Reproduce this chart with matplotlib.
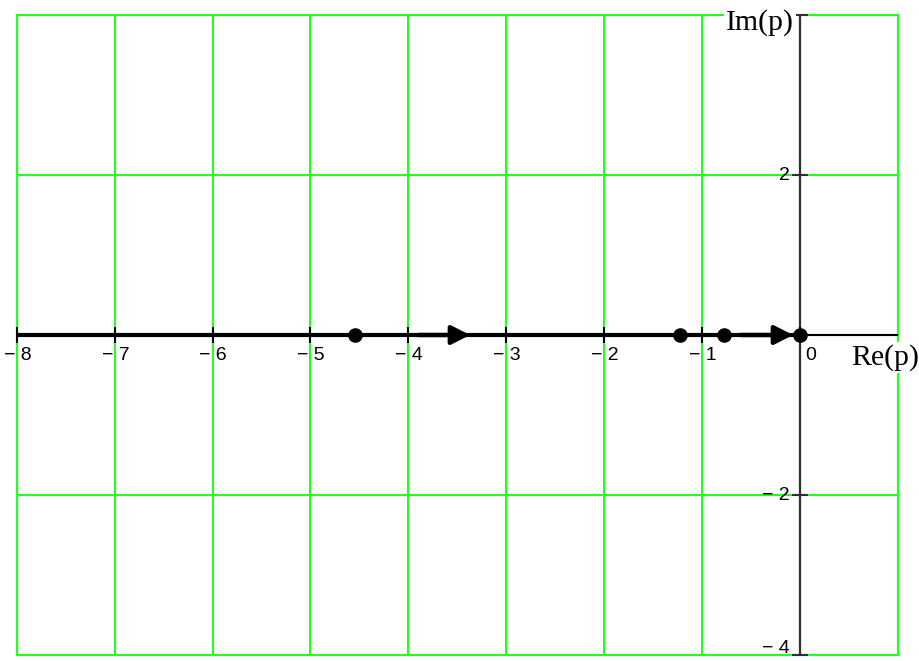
import matplotlib
matplotlib.use("Agg")
import matplotlib.pyplot as plt
from matplotlib.transforms import offset_copy

# Axis ranges and tick positions
re_ticks = [-8, -7, -6, -5, -4, -3, -2, -1, 0, 1]
im_ticks = [-4, -2, 0, 2, 4]
re_labels = {-8: "− 8", -7: "− 7", -6: "− 6", -5: "− 5", -4: "− 4",
             -3: "− 3", -2: "− 2", -1: "− 1", 0: "0"}
im_labels = {2: "2", -2: "− 2", -4: "− 4"}

# Root locus on the real axis
locus_re = [-8.0, 0.0]
locus_im = [0.0, 0.0]
points_re = [-4.55, -1.23, -0.78, 0.0]
points_im = [0.0, 0.0, 0.0, 0.0]
arrow_tail_re = [-3.9, -0.6]
arrow_tip_re = [-3.37, -0.07]

GREEN = "#22ff22"
fig = plt.figure(figsize=(9.2, 6.61), dpi=100)
ax = fig.add_axes([16.8 / 920, 6 / 661, 881 / 920, 640 / 661])
ax.set_xlim(-8, 1)
ax.set_ylim(-4, 4)
ax.set_xticks(re_ticks)
ax.set_yticks(im_ticks)
ax.grid(True, color=GREEN, lw=1.5, zorder=0)
ax.set_axisbelow(True)
ax.tick_params(length=0, labelbottom=False, labelleft=False)
for sp in ax.spines.values():
    sp.set_color(GREEN)
    sp.set_linewidth(1.5)

# Coordinate axes through the origin
ax.axvline(0, color="#303030", lw=1.6, zorder=3)
ax.axhline(0, color="black", lw=1.5, zorder=3)
ax.plot(re_ticks[:-1], [0] * (len(re_ticks) - 1), ls="none", marker="|", ms=11,
        mew=1.5, color="black", zorder=3, clip_on=False)
ax.plot([0] * len(im_ticks), im_ticks, ls="none", marker="_", ms=12,
        mew=1.5, color="#303030", zorder=3, clip_on=False)

# Locus branch, roots and direction arrows
ax.plot(locus_re, locus_im, color="black", lw=3.0, solid_capstyle="butt", zorder=4)
ax.plot(points_re, points_im, "o", ms=9.5, color="black", zorder=5, clip_on=False)
for x0, x1 in zip(arrow_tail_re, arrow_tip_re):
    ax.annotate("", xy=(x1, 0), xytext=(x0, 0),
                arrowprops=dict(arrowstyle="-|>,head_length=0.55,head_width=0.28",
                                mutation_scale=20, color="black", lw=3.2,
                                shrinkA=0, shrinkB=0),
                zorder=5)

# Tick labels
for x, s in re_labels.items():
    if x == 0:
        tr = offset_copy(ax.transData, fig=fig, x=3.5, y=-8.5, units="points")
        ax.text(x, 0, s, transform=tr, ha="left", va="top",
                family="Liberation Sans", fontsize=14, zorder=6)
    else:
        tr = offset_copy(ax.transData, fig=fig, x=0.5, y=-8.5, units="points")
        ax.text(x, 0, s, transform=tr, ha="center", va="top",
                family="Liberation Sans", fontsize=14, zorder=6)
for y, s in im_labels.items():
    # the bottom label is lifted just enough to stay inside the figure
    dy = 5.0 if y == im_ticks[0] else 0.0
    tr = offset_copy(ax.transData, fig=fig, x=-7.5, y=dy, units="points")
    ax.text(0, y, s, transform=tr, ha="right", va="center",
            family="Liberation Sans", fontsize=14, zorder=6, clip_on=False)

# Axis titles
tr_im = offset_copy(ax.transData, fig=fig, x=-4.5, y=4.5, units="points")
ax.text(0, 4, "Im(p)", transform=tr_im, ha="right", va="top",
        family="Liberation Serif", fontsize=21.5, zorder=7, clip_on=False,
        bbox=dict(facecolor="white", edgecolor="none", pad=1.5))
tr_re = offset_copy(ax.transData, fig=fig, x=-33.5, y=-6.5, units="points")
ax.text(1, 0, "Re(p)", transform=tr_re, ha="left", va="top",
        family="Liberation Serif", fontsize=21.5, zorder=7, clip_on=False,
        bbox=dict(facecolor="white", edgecolor="none", pad=1.5))

fig.savefig("out.png", dpi=100)
